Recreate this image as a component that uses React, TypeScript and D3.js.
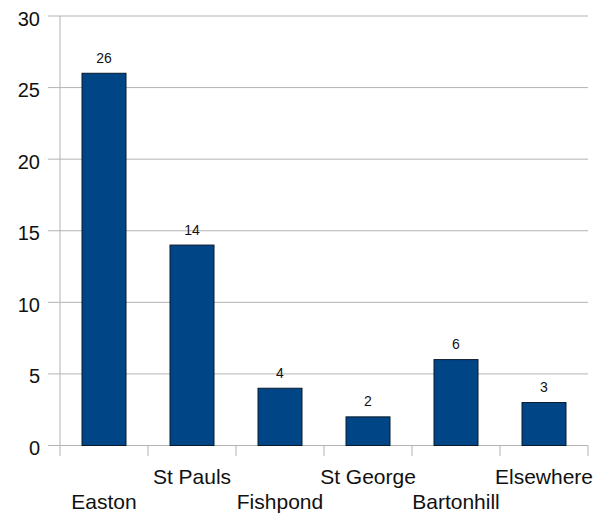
import React from "react";
import * as d3 from "d3";

const categories = ["Easton", "St Pauls", "Fishpond", "St George", "Bartonhill", "Elsewhere"];
const counts = [26, 14, 4, 2, 6, 3];
const yTicks = [0, 5, 10, 15, 20, 25, 30];

const W = 606;
const H = 514;
const left = 60;
const right = 588;
const top = 16;
const bottom = 445.5;
const font = "'Liberation Sans', Arial, sans-serif";

export default function App() {
  const x = d3.scaleBand<string>().domain(categories).range([left, right]).paddingInner(0.5).paddingOuter(0.25);
  const band = d3.scaleBand<string>().domain(categories).range([left, right]);
  const y = d3.scaleLinear().domain([0, 30]).range([bottom, top]);
  const grid = "#b3b3b3";

  return (
    <svg width={W} height={H} style={{ position: "absolute", left: 0, top: 0 }}>
      <rect width={W} height={H} fill="#fff" />
      {yTicks.map((t) => (
        <g key={t}>
          <line x1={48} x2={right} y1={y(t)} y2={y(t)} stroke={grid} strokeWidth={1} />
          <text x={40} y={y(t) + 9.5} textAnchor="end" fontFamily={font} fontSize={20} fill="#111">
            {t}
          </text>
        </g>
      ))}
      <line x1={left} x2={left} y1={top} y2={456} stroke={grid} strokeWidth={1} />
      {categories.map((c) => (
        <line key={c} x1={(band(c) as number) + band.bandwidth()} x2={(band(c) as number) + band.bandwidth()} y1={bottom} y2={456} stroke={grid} strokeWidth={1} />
      ))}
      {categories.map((c, i) => (
        <g key={c}>
          <rect
            x={x(c)}
            y={y(counts[i])}
            width={x.bandwidth()}
            height={bottom - y(counts[i])}
            fill="#004586"
            stroke="#0a1a2a"
            strokeWidth={1}
          />
          <text x={(x(c) as number) + x.bandwidth() / 2} y={y(counts[i]) - 10.5} textAnchor="middle" fontFamily={font} fontSize={14} fill="#111">
            {counts[i]}
          </text>
          <text
            x={(band(c) as number) + band.bandwidth() / 2}
            y={i % 2 === 0 ? 509 : 484}
            textAnchor="middle"
            fontFamily={font}
            fontSize={21}
            fill="#111"
          >
            {c}
          </text>
        </g>
      ))}
    </svg>
  );
}
